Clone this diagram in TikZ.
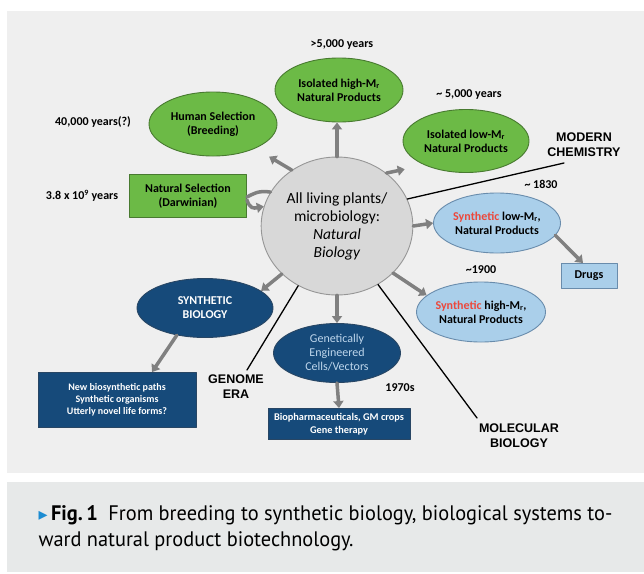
\documentclass[tikz,border=0pt]{standalone}
\usepackage{fontspec}
\setmainfont{Carlito}
\newfontfamily\headfont{Liberation Sans}
\newfontfamily\capfont[FakeStretch=0.97]{PT Sans}
\newfontfamily\symfont{DejaVu Sans}
\usetikzlibrary{arrows.meta,shapes.geometric}

\definecolor{leafgreen}{RGB}{108,186,70}
\definecolor{leafedge}{RGB}{72,122,48}
\definecolor{skyblue}{RGB}{170,207,234}
\definecolor{skyedge}{RGB}{105,140,172}
\definecolor{navy}{RGB}{22,74,122}
\definecolor{navyedge}{RGB}{40,70,100}
\definecolor{paletext}{RGB}{190,214,236}
\definecolor{coregray}{RGB}{216,216,216}
\definecolor{coreedge}{RGB}{150,150,150}
\definecolor{arrowgray}{RGB}{128,128,128}
\definecolor{panelgray}{RGB}{239,239,239}
\definecolor{capgray}{RGB}{231,233,233}
\definecolor{synred}{RGB}{236,72,60}
\definecolor{capblue}{RGB}{28,140,210}

\tikzset{
  oval/.style={ellipse, inner sep=0pt, line width=0.9pt, align=center,
    font=\bfseries\fontsize{12}{14}\selectfont},
  greenoval/.style={oval, draw=leafedge, fill=leafgreen},
  blueoval/.style={oval, draw=skyedge, fill=skyblue},
  navyoval/.style={oval, draw=navyedge, fill=navy, text=white},
  flatbox/.style={rectangle, inner sep=0pt, line width=0.9pt, align=center},
  navybox/.style={flatbox, draw=navyedge, fill=navy, text=white,
    font=\bfseries\fontsize{10}{12}\selectfont},
  tag/.style={font=\bfseries\fontsize{12}{14}\selectfont},
  era/.style={align=center, font=\headfont\bfseries\fontsize{12.5}{15}\selectfont},
  fat/.style={draw=arrowgray, line width=3.5pt},
  fatarrow/.style={fat, -{Triangle[length=7pt,width=10pt]}},
  eraline/.style={line width=1.3pt, black}
}

\begin{document}
\begin{tikzpicture}[x=1pt,y=-1pt,line cap=round,line join=round]
    \useasboundingbox (0,0) rectangle (644,573);
    % panels
    \fill[panelgray] (7,11) rectangle (644,473);
    \fill[capgray] (7,482) rectangle (644,572);

    % centre
    \node[ellipse, draw=coreedge, fill=coregray, line width=0.9pt, minimum width=141pt, minimum height=138pt,
      align=center, font=\fontsize{15.5}{18}\selectfont] (core) at (337,226)
      {All living plants/\\microbiology:\\\textit{Natural}\\\textit{Biology}};

    % green ring
    \node[greenoval, minimum width=128pt, minimum height=64pt] (highm) at (339,90) {Isolated high-M\textsubscript{r}\\Natural Products};
    \node[greenoval, minimum width=128pt, minimum height=64pt] (human) at (213,124) {Human Selection\\(Breeding)};
    \node[greenoval, minimum width=126pt, minimum height=63pt] (lowm) at (466,141) {Isolated low-M\textsubscript{r}\\Natural Products};
    \node[flatbox, draw=leafedge, fill=leafgreen, minimum width=117pt, minimum height=43pt,
      font=\bfseries\fontsize{12}{14}\selectfont] (natsel) at (188,196) {Natural Selection\\(Darwinian)};

    % chemistry
    \node[blueoval, minimum width=127pt, minimum height=60pt] (synlow) at (497,223) {{\color{synred}Synthetic} low-M\textsubscript{r},\\Natural Products};
    \node[flatbox, draw=skyedge, fill=skyblue, minimum width=56pt, minimum height=25pt,
      font=\bfseries\fontsize{12}{14}\selectfont] (drugs) at (589,276) {Drugs};
    \node[blueoval, minimum width=129pt, minimum height=60pt] (synhigh) at (481,312) {{\color{synred}Synthetic} high-M\textsubscript{r},\\Natural Products};

    % genome
    \node[navyoval, minimum width=136pt, minimum height=59pt] (synbio) at (205,308) {SYNTHETIC\\BIOLOGY};
    \node[navybox, minimum width=158pt, minimum height=55pt] (newpaths) at (117,400)
      {New biosynthetic paths\\Synthetic organisms\\Utterly novel life forms?};
    \node[navyoval, minimum width=127pt, minimum height=59pt, text=paletext,
      font=\fontsize{12}{14}\selectfont] (gecells) at (337,353) {Genetically\\Engineered\\Cells/Vectors};
    \node[navybox, minimum width=142pt, minimum height=31pt, font=\bfseries\fontsize{10.3}{12.5}\selectfont] (biopharm) at (339,424)
      {Biopharmaceuticals, GM crops\\Gene therapy};

    % dates
    \node[tag] (t5000) at (342,45) {>5,000 years};
    \node[tag] (t40000) at (93,122) {40,000 years(?)};
    \node[tag] (t38) at (82,196) {3.8 x 10\textsuperscript{9} years};
    \node[tag] (tlow) at (469,95) {\textasciitilde\ 5,000 years};
    \node[tag] (t1830) at (541,184) {\textasciitilde\ 1830};
    \node[tag] (t1900) at (481,270) {\textasciitilde1900};
    \node[tag] (t1970) at (400,388) {1970s};

    % eras
    \node[era] (modern) at (584,145) {MODERN\\CHEMISTRY};
    \node[era] (genome) at (236,387) {GENOME\\ERA};
    \node[era] (molbio) at (519,436) {MOLECULAR\\BIOLOGY};
    \coordinate (modend) at (564,163);
    \coordinate (genend) at (247,370);
    \coordinate (molend) at (477,418);
    \draw[eraline] (modend) -- (core.21);
    \draw[eraline] (genend) -- (core.237);
    \draw[eraline] (molend) -- (core.-55);

    % arrows
    \draw[fatarrow] (core.north) -- (core.north |- highm.south);
    \draw[fatarrow, shorten >=16pt] (core.129) -- (human.-30);
    \draw[fatarrow, shorten >=20pt] (core.47) -- (lowm.210);
    \draw[fatarrow] (core.east) -- (synlow.west);
    \draw[fatarrow] (synlow.-12) -- ([xshift=-6pt]drugs.north);
    \draw[fatarrow] (core.-40) -- (synhigh.163);
    \draw[fatarrow] (core.221) -- (synbio.17);
    \draw[fatarrow] (synbio.-136) -- ([xshift=35pt]newpaths.north);
    \draw[fatarrow] (core.south) -- (gecells.north);
    \draw[fatarrow] (gecells.south) -- (biopharm.north);
    \draw[fat] (core.153) .. controls +(-12,-2) and +(6,-3) .. ([yshift=-1pt]natsel.east);
    \draw[fatarrow] ([yshift=-4pt]natsel.east) .. controls +(3,9) and +(-10,2) .. (core.165);

    % caption
    \node[anchor=west, font=\capfont\fontsize{21}{24}\selectfont] (capone) at (35,515)
      {{\symfont\color{capblue}\fontsize{18}{16}\selectfont ▸}\,\textbf{Fig.\,1}\enspace From breeding to synthetic biology, biological systems to-};
    \node[anchor=west, font=\capfont\fontsize{21}{24}\selectfont] (captwo) at (35,541)
      {ward natural product biotechnology.};
\end{tikzpicture}
\end{document}
